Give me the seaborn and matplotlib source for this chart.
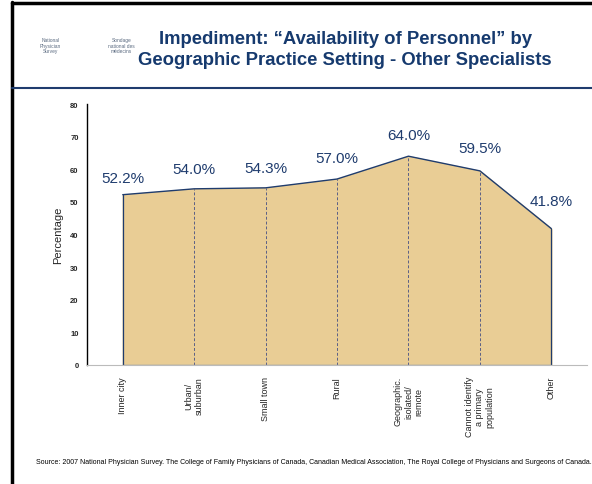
import pandas as pd
import matplotlib.pyplot as plt
import seaborn as sns
from matplotlib.lines import Line2D

# Dados
settings = ["Inner city", "Urban/\nsuburban", "Small town", "Rural",
            "Geographic.\nisolated/\nremote", "Cannot identify\na primary\npopulation", "Other"]
percent = [52.2, 54.0, 54.3, 57.0, 64.0, 59.5, 41.8]
y_ticks = [0, 10, 20, 30, 40, 50, 60, 70, 80]

title = "Impediment: \u201cAvailability of Personnel\u201d by\nGeographic Practice Setting - Other Specialists"
source = ("Source: 2007 National Physician Survey. The College of Family Physicians of Canada, "
          "Canadian Medical Association, The Royal College of Physicians and Surgeons of Canada.")

df = pd.DataFrame({"pos": range(len(settings)), "setting": settings, "pct": percent})

sns.set_style("white")
plt.rcParams['font.family'] = ['Liberation Sans', 'DejaVu Sans']

navy = "#1F3C6E"
fig = plt.figure(figsize=(5.92, 4.85), dpi=100)
ax = fig.add_axes([0.147, 0.2454, 0.8446, 0.5381])

# área preenchida + linha
ax.fill_between(df["pos"], 0, df["pct"], color="#E9CD95", zorder=1)
sns.lineplot(data=df, x="pos", y="pct", color=navy, linewidth=1.0, ax=ax, zorder=3)
ax.plot([0, 0], [0, percent[0]], color=navy, lw=0.9, zorder=3)
ax.plot([6, 6], [0, percent[-1]], color=navy, lw=0.9, zorder=3)
for i, v in enumerate(percent[1:-1], start=1):
    ax.plot([i, i], [0, v], color="#5A5F86", lw=0.7, ls=(0, (3, 2)), zorder=2)
ax.plot([0, 6], [0, 0], color="#7F8FB0", lw=1.0, zorder=3)

offsets = [5.0, 6.0, 6.0, 6.5, 6.5, 7.0, 8.5]
for i, v in enumerate(percent):
    ax.text(i, v + offsets[i], f"{v:.1f}%", ha="center", va="center",
            fontsize=11, color=navy)

ax.set_xlim(-0.5, 6.5)
ax.set_ylim(0, 80)
ax.set_yticks(y_ticks)
ax.set_yticklabels([str(t) for t in y_ticks], fontsize=5.5, fontweight="bold")
ax.set_xticks(range(len(settings)))
ax.set_xticklabels(settings, rotation=90, fontsize=6.5, ha="center", va="top",
                   multialignment="center")
ax.set_xticks([i + 0.5 for i in range(6)], minor=True)
ax.tick_params(axis="x", which="major", length=0, pad=8)
ax.tick_params(axis="x", which="minor", length=3, color="#BBBBBB", direction="out")
ax.tick_params(axis="y", length=3, width=0.8, color="black", direction="out", pad=3)
ax.set_xlabel("")
ax.set_ylabel("Percentage", fontsize=8, labelpad=5)

for s in ["top", "right"]:
    ax.spines[s].set_visible(False)
ax.spines["left"].set_color("black")
ax.spines["left"].set_linewidth(1.0)
ax.spines["bottom"].set_color("#BBBBBB")
ax.spines["bottom"].set_linewidth(0.8)

# cabeçalho e moldura
fig.text(0.583, 0.897, title, ha="center", va="center", fontsize=13.3,
         fontweight="bold", color="#163A6E", linespacing=1.3)
fig.text(0.085, 0.905, "National\nPhysician\nSurvey", ha="center", va="center",
         fontsize=3.5, color="#5A6A80")
fig.text(0.205, 0.905, "Sondage\nnational des\nmédecins", ha="center", va="center",
         fontsize=3.5, color="#5A6A80")
fig.text(0.06, 0.046, source, ha="left", va="center", fontsize=5.0, color="black")

fig.add_artist(Line2D([12 / 592, 1], [1 - 4 / 485] * 2, color="black", lw=2.5,
                      transform=fig.transFigure))
fig.add_artist(Line2D([12 / 592] * 2, [0, 1 - 3 / 485], color="black", lw=2.5,
                      transform=fig.transFigure))
fig.add_artist(Line2D([12 / 592, 1], [1 - 89 / 485] * 2, color="#1F3C6E", lw=1.5,
                      transform=fig.transFigure))

fig.savefig("out.png", dpi=100)
